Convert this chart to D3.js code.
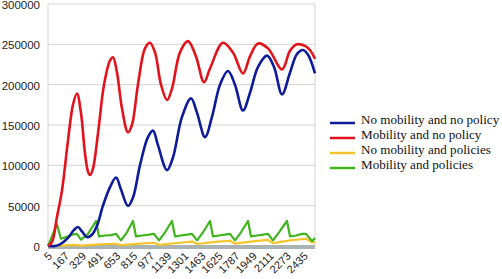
<!DOCTYPE html>
<html>
<head>
<meta charset="utf-8">
<script src="https://cdn.jsdelivr.net/npm/d3@7"></script>
<style>
  body { margin: 0; background: #fff; }
  svg { display: block; }
  .legend-label { font-family: "Liberation Serif", "Times New Roman", serif; font-size: 13.1px; fill: #111; }
</style>
</head>
<body>
<svg id="chart" width="502" height="279"></svg>
<script>
// Series as [x, value] pairs
const noMobNoPolicy = [
  [5, 0], [71, 0], [119, 2000], [195, 10000], [252, 20000], [290, 23500], [328, 18000],
  [375, 11000], [423, 14000], [470, 25000], [527, 50000], [594, 73000], [651, 85000],
  [698, 70000], [764, 49500], [812, 60000], [878, 100000], [954, 135000], [1002, 143000],
  [1049, 125000], [1135, 94000], [1192, 110000], [1277, 160000], [1363, 183000],
  [1420, 165000], [1496, 135000], [1562, 160000], [1638, 200000], [1714, 217000],
  [1780, 200000], [1856, 168000], [1923, 190000], [1999, 222000], [2084, 236000],
  [2151, 222000], [2227, 188000], [2303, 215000], [2369, 238000], [2426, 243000],
  [2474, 237000], [2540, 214000]
];
const mobNoPolicy = [
  [5, 0], [43, 5000], [90, 36000], [138, 69000], [195, 131000], [242, 175000], [280, 189000],
  [318, 165000], [356, 115000], [385, 92000], [404, 88000], [432, 96000], [480, 140000],
  [537, 200000], [594, 230000], [622, 234000], [660, 215000], [708, 170000], [764, 141000],
  [802, 150000], [859, 200000], [926, 245000], [973, 252000], [1021, 240000], [1078, 200000],
  [1135, 181000], [1182, 195000], [1258, 240000], [1334, 254000], [1410, 235000],
  [1486, 203000], [1543, 220000], [1666, 252000], [1761, 240000], [1856, 214000],
  [1923, 235000], [1999, 251000], [2094, 245000], [2227, 219000], [2303, 242000],
  [2369, 250000], [2445, 248000], [2492, 243000], [2540, 232000]
];
const noMobPolicies = [
  [5, 0], [119, 500], [261, 1500], [318, 500], [499, 2000], [641, 2800], [698, 1000],
  [878, 3000], [1011, 4000], [1059, 1500], [1258, 4000], [1372, 5500], [1420, 2500],
  [1591, 5000], [1733, 6500], [1780, 3000], [1970, 6000], [2094, 7500], [2141, 3500],
  [2303, 7000], [2455, 9000], [2512, 4500], [2540, 5000]
];
const mobPolicies = [
  [5, 0], [90, 27000], [128, 9000], [176, 11000], [233, 14000], [280, 15000], [318, 8000],
  [385, 15000], [461, 31000], [489, 12000], [546, 13000], [603, 13500], [651, 15000],
  [698, 7000], [755, 17000], [812, 31000], [840, 12000], [897, 13000], [964, 14000],
  [1011, 15000], [1059, 7000], [1116, 17000], [1182, 31000], [1211, 12000], [1268, 13000],
  [1325, 14000], [1372, 15000], [1420, 7000], [1477, 17000], [1543, 31000], [1571, 12000],
  [1628, 13000], [1685, 14000], [1733, 15000], [1780, 7000], [1837, 17000], [1904, 31000],
  [1932, 12000], [1989, 13000], [2046, 14000], [2094, 15000], [2141, 7000], [2198, 17000],
  [2274, 31000], [2303, 12000], [2360, 13000], [2417, 15000], [2455, 15000], [2512, 6000],
  [2540, 10000]
];

const seriesNames = ['No mobility and no policy', 'Mobility and no policy',
  'No mobility and policies', 'Mobility and policies'];
const seriesColors = ['#0d1a9a', '#e3121b', '#f3c52a', '#3fb41c'];
const seriesData = [noMobNoPolicy, mobNoPolicy, noMobPolicies, mobPolicies];

const xTicks = [5, 167, 329, 491, 653, 815, 977, 1139, 1301, 1463, 1625, 1787, 1949, 2111, 2273, 2435];
const yTicks = [0, 50000, 100000, 150000, 200000, 250000, 300000];

const svg = d3.select('#chart');
const plot = { left: 48, right: 315, top: 4, bottom: 246 };

const x = d3.scaleLinear().domain([5, 2540]).range([plot.left, plot.right]);
const y = d3.scaleLinear().domain([0, 300000]).range([plot.bottom, plot.top]);

// Horizontal gridlines
svg.append('g')
  .selectAll('line')
  .data(yTicks)
  .join('line')
  .attr('x1', plot.left).attr('x2', plot.right)
  .attr('y1', d => y(d)).attr('y2', d => y(d))
  .attr('stroke', '#d4d4d4').attr('stroke-width', 1);

// Left and right frame lines
svg.append('g')
  .selectAll('line')
  .data([plot.left, plot.right])
  .join('line')
  .attr('x1', d => d).attr('x2', d => d)
  .attr('y1', plot.top).attr('y2', plot.bottom)
  .attr('stroke', '#d4d4d4').attr('stroke-width', 1);

// Thick grey baseline
svg.append('rect')
  .attr('x', plot.left).attr('y', y(0) - 1)
  .attr('width', plot.right - plot.left).attr('height', 4)
  .attr('fill', '#aab3b3');

// Y axis labels
svg.append('g')
  .selectAll('text')
  .data(yTicks)
  .join('text')
  .attr('x', 40)
  .attr('y', d => y(d) + 1)
  .attr('dy', '0.35em')
  .attr('text-anchor', 'end')
  .attr('font-family', "'Liberation Sans', Arial, sans-serif")
  .attr('font-size', '11.5px')
  .attr('fill', '#222')
  .text(d => d);

// X axis labels (rotated)
svg.append('g')
  .selectAll('text')
  .data(xTicks)
  .join('text')
  .attr('transform', d => `translate(${x(d) + 2}, 254) rotate(-45)`)
  .attr('text-anchor', 'end')
  .attr('dy', '0.35em')
  .attr('font-family', "'Liberation Sans', Arial, sans-serif")
  .attr('font-size', '11px')
  .attr('fill', '#222')
  .text(d => d);

// Lines
const line = d3.line()
  .x(d => x(d[0]))
  .y(d => y(d[1]))
  .curve(d3.curveCatmullRom.alpha(0.5));

const lineStraight = d3.line()
  .x(d => x(d[0]))
  .y(d => y(d[1]));

// yellow and green underneath, blue and red on top
const drawOrder = [2, 3, 0, 1];
drawOrder.forEach(i => {
  svg.append('path')
    .datum(seriesData[i])
    .attr('d', i >= 2 ? lineStraight : line)
    .attr('fill', 'none')
    .attr('stroke', seriesColors[i])
    .attr('stroke-width', i >= 2 ? 2.2 : 2.6)
    .attr('stroke-linejoin', 'round');
});

// Legend
const legend = svg.append('g').attr('transform', 'translate(330, 123)');
const rows = legend.selectAll('g')
  .data(seriesNames)
  .join('g')
  .attr('transform', (d, i) => `translate(0, ${i * 15})`);

rows.append('line')
  .attr('x1', 0).attr('x2', 25)
  .attr('y1', 0).attr('y2', 0)
  .attr('stroke', (d, i) => seriesColors[i])
  .attr('stroke-width', 2.5);

rows.append('text')
  .attr('class', 'legend-label')
  .attr('x', 31)
  .attr('y', 0)
  .attr('dy', '0.1em')
  .text(d => d);
</script>
</body>
</html>
